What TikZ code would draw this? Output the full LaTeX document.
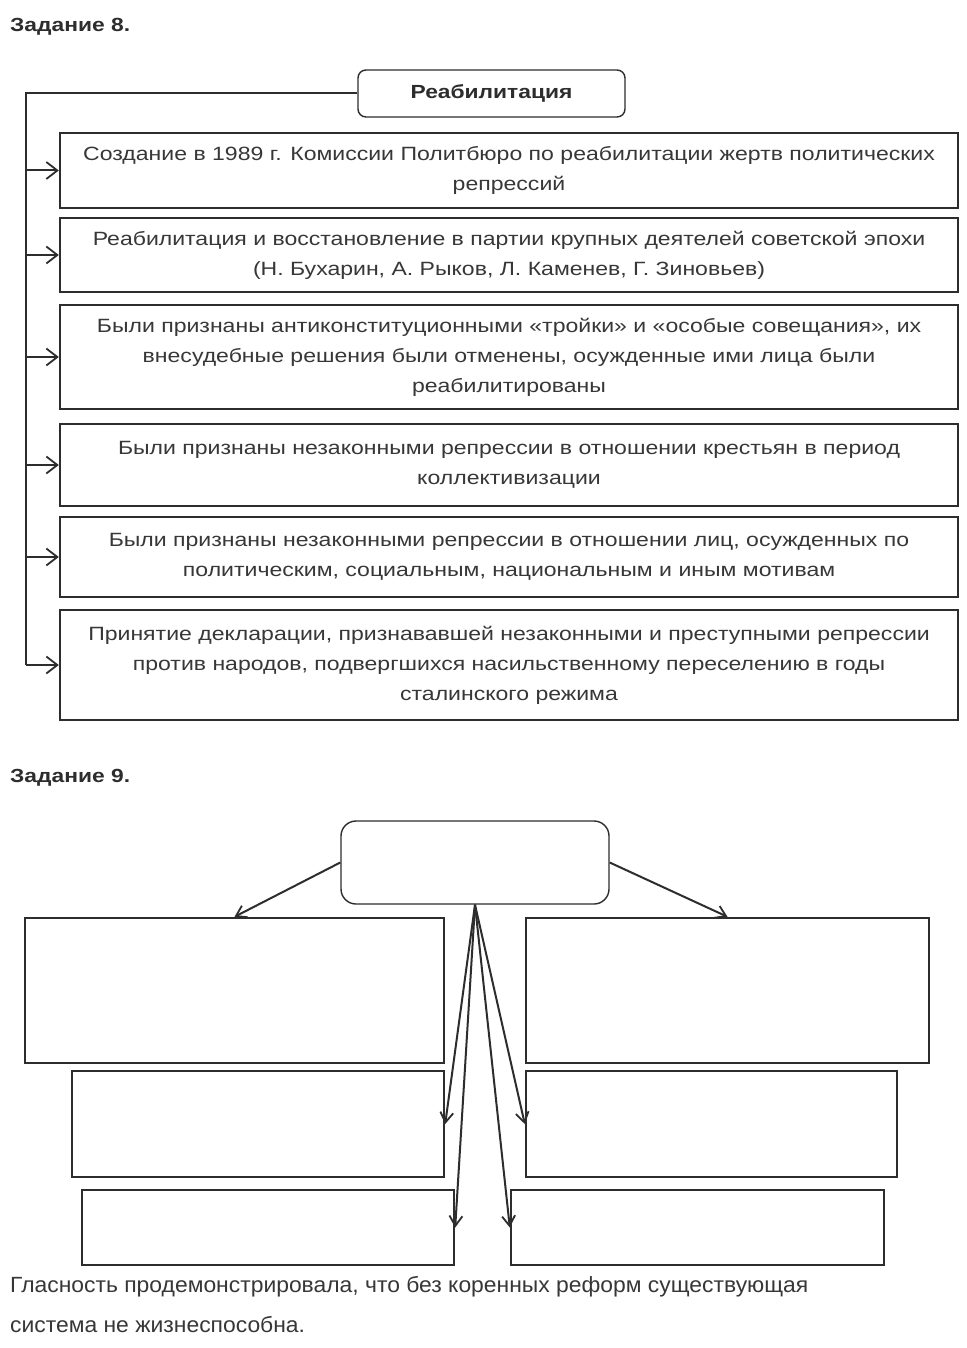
\documentclass[tikz,border=0pt]{standalone}
\usepackage{fontspec}
\setmainfont{Liberation Sans}[FakeStretch=1.2]
\newfontfamily\plainfont{Liberation Sans}[FakeStretch=1.04]
\usetikzlibrary{arrows.meta,positioning}
\definecolor{inkgray}{RGB}{45,45,45}
\definecolor{textgray}{RGB}{55,55,55}

\tikzset{
  factbox/.style={draw=inkgray,line width=2.4pt,minimum width=898pt,inner sep=0pt,
                  align=center,text=textgray,font=\fontsize{19.2}{30}\selectfont},
  headbox/.style={draw=inkgray,line width=1.4pt,rounded corners=8pt,inner sep=0pt,
                  minimum width=267pt,minimum height=47pt,text=inkgray,
                  font=\fontsize{19}{24}\selectfont\bfseries},
  emptybox/.style={draw=inkgray,line width=2.4pt,inner sep=0pt},
  link/.style={draw=inkgray,line width=2pt},
  arr/.style={link,-{Straight Barb[length=11pt,width=17pt,line width=1.8pt]}},
  fanarr/.style={link,-{Straight Barb[length=10pt,width=13pt,line width=1.8pt]}},
  title/.style={anchor=base west,inner sep=0pt,text=inkgray,font=\fontsize{19}{24}\selectfont\bfseries}
}

\begin{document}
\begin{tikzpicture}[x=1pt,y=-1pt]
  \useasboundingbox[fill=white] (0,0) rectangle (966,1348);

  % Task 8
  \node[title] (t8) at (10,32) {Задание 8.};
  \node[headbox] (rehab) at (491.5,93.5) {Реабилитация};
  \coordinate (spine) at (26,93.5);

  \node[factbox,minimum height=75pt] (b1) at (509,170.5)
       {Создание в 1989 г. Комиссии Политбюро по реабилитации жертв политических\\репрессий};
  \node[factbox,minimum height=74pt] (b2) at (509,255)
       {Реабилитация и восстановление в партии крупных деятелей советской эпохи\\(Н. Бухарин, А. Рыков, Л. Каменев, Г. Зиновьев)};
  \node[factbox,minimum height=104pt] (b3) at (509,357)
       {Были признаны антиконституционными «тройки» и «особые совещания», их\\внесудебные решения были отменены, осужденные ими лица были\\реабилитированы};
  \node[factbox,minimum height=82pt] (b4) at (509,465)
       {Были признаны незаконными репрессии в отношении крестьян в период\\коллективизации};
  \node[factbox,minimum height=80pt] (b5) at (509,557)
       {Были признаны незаконными репрессии в отношении лиц, осужденных по\\политическим, социальным, национальным и иным мотивам};
  \node[factbox,minimum height=110pt] (b6) at (509,665)
       {Принятие декларации, признававшей незаконными и преступными репрессии\\против народов, подвергшихся насильственному переселению в годы\\сталинского режима};

  \draw[link] (rehab.west) -- (spine) -- (spine |- b6.west);
  \foreach \b in {b1,b2,b3,b4,b5,b6}
    \draw[arr] (spine |- \b.west) -- (\b.west);

  % Task 9
  \node[title] (t9) at (10,782) {Задание 9.};
  \node[draw=inkgray,line width=1.4pt,rounded corners=15pt,minimum width=268pt,
        minimum height=83pt,inner sep=0pt] (glas) at (475,862.5) {};

  \node[emptybox,minimum width=419pt,minimum height=145pt] (l1) at (234.5,990.5) {};
  \node[emptybox,minimum width=372pt,minimum height=106pt] (l2) at (258,1124) {};
  \node[emptybox,minimum width=372pt,minimum height=75pt] (l3) at (268,1227.5) {};
  \node[emptybox,minimum width=403pt,minimum height=145pt] (r1) at (727.5,990.5) {};
  \node[emptybox,minimum width=371pt,minimum height=106pt] (r2) at (711.5,1124) {};
  \node[emptybox,minimum width=373pt,minimum height=75pt] (r3) at (697.5,1227.5) {};

  \draw[fanarr] (glas.west) -- (l1.north);
  \draw[fanarr] (glas.east) -- (r1.north);
  \foreach \b/\a in {l2/east,l3/east,r2/west,r3/west}
    \draw[fanarr] (glas.south) -- (\b.\a);

  \node[anchor=base west,inner sep=0pt,text=textgray,font=\plainfont\fontsize{22}{26}\selectfont]
       (gl1) at (10,1292) {Гласность продемонстрировала, что без коренных реформ существующая};
  \node[anchor=base west,inner sep=0pt,text=textgray,font=\plainfont\fontsize{22}{26}\selectfont]
       (gl2) at (10,1332) {система не жизнеспособна.};
\end{tikzpicture}
\end{document}
